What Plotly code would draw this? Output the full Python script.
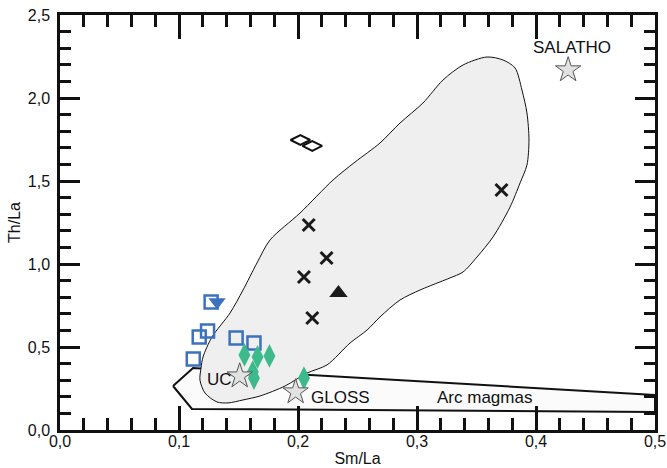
import plotly.graph_objects as go

# ---------------- data ----------------
# Field outline (grey envelope), data units
field_x = [0.3588, 0.3723, 0.3824, 0.3882, 0.3924, 0.3941, 0.3924, 0.3866, 0.3782, 0.3639,
           0.3504, 0.3387, 0.3277, 0.3193, 0.3025, 0.2857, 0.2689, 0.2580, 0.2437, 0.2244,
           0.2076, 0.1891, 0.1681, 0.1538, 0.1412, 0.1319, 0.1218, 0.1176, 0.1185, 0.1202,
           0.1277, 0.1429, 0.1538, 0.1655, 0.1765, 0.2017, 0.2294, 0.2479, 0.2689, 0.2857,
           0.3050, 0.3218, 0.3387, 0.3588]
field_y = [2.247, 2.229, 2.181, 2.048, 1.910, 1.747, 1.596, 1.488, 1.343, 1.163,
           1.042, 0.952, 0.916, 0.892, 0.843, 0.783, 0.681, 0.602, 0.524, 0.392,
           0.343, 0.265, 0.205, 0.181, 0.163, 0.169, 0.223, 0.301, 0.373, 0.440,
           0.560, 0.705, 0.843, 1.006, 1.145, 1.307, 1.506, 1.614, 1.729, 1.849,
           1.970, 2.108, 2.199, 2.247]

# Arc magmas field
arc_x = [0.095, 0.1118, 0.5, 0.5, 0.1109, 0.095]
arc_y = [0.265, 0.373, 0.211, 0.108, 0.127, 0.265]

# Blue open squares
sq_x = [0.112, 0.117, 0.124, 0.148, 0.163, 0.127]
sq_y = [0.428, 0.560, 0.596, 0.554, 0.524, 0.771]

# Blue filled down triangle
tri_dn_x = [0.132]
tri_dn_y = [0.771]

# Green diamonds
gd_x = [0.155, 0.166, 0.176, 0.162, 0.163, 0.205]
gd_y = [0.452, 0.440, 0.446, 0.349, 0.313, 0.313]

# Black crosses
cr_x = [0.209, 0.224, 0.205, 0.212, 0.371]
cr_y = [1.235, 1.036, 0.922, 0.675, 1.446]

# Black triangle up
tri_up_x = [0.234]
tri_up_y = [0.825]

# Open black diamonds
od_x = [0.202, 0.212]
od_y = [1.747, 1.711]

# Reference compositions (stars)
ref_names = ["SALATHO", "UC", "GLOSS"]
ref_x = [0.427, 0.151, 0.198]
ref_y = [2.169, 0.325, 0.229]

# Text labels
lab_text = ["SALATHO", "UC", "GLOSS", "Arc magmas"]
lab_x = [0.430, 0.134, 0.236, 0.357]
lab_y = [2.306, 0.307, 0.193, 0.193]

BLUE = "#3b71bf"
GREEN = "#3dba8c"
FONT = "Liberation Sans, Arial, sans-serif"

fig = go.Figure()

fig.add_trace(go.Scatter(x=arc_x, y=arc_y, mode="lines", fill="toself",
                         fillcolor="#fbfbfb", line=dict(color="#111", width=2),
                         hoverinfo="skip", showlegend=False))
fig.add_trace(go.Scatter(x=field_x, y=field_y, mode="lines", fill="toself",
                         fillcolor="#efefef", line=dict(color="#111", width=1, shape="spline", smoothing=0.8),
                         hoverinfo="skip", showlegend=False))

fig.add_trace(go.Scatter(x=od_x, y=od_y, mode="markers",
                         marker=dict(symbol="diamond-wide-open", size=14, color="#111", line=dict(width=2)),
                         showlegend=False))
fig.add_trace(go.Scatter(x=cr_x, y=cr_y, mode="markers",
                         marker=dict(symbol="x-thin-open", size=12, color="#1a1a1a", line=dict(width=3)),
                         showlegend=False))
fig.add_trace(go.Scatter(x=tri_up_x, y=tri_up_y, mode="markers",
                         marker=dict(symbol="triangle-up", size=16, color="#1a1a1a"),
                         showlegend=False))
fig.add_trace(go.Scatter(x=sq_x, y=sq_y, mode="markers",
                         marker=dict(symbol="square-open", size=13, color=BLUE, line=dict(width=2.5)),
                         showlegend=False))
fig.add_trace(go.Scatter(x=tri_dn_x, y=tri_dn_y, mode="markers",
                         marker=dict(symbol="triangle-down", size=15, color=BLUE),
                         showlegend=False))
fig.add_trace(go.Scatter(x=gd_x, y=gd_y, mode="markers",
                         marker=dict(symbol="diamond-tall", size=17, color=GREEN, line=dict(width=0)),
                         showlegend=False))
fig.add_trace(go.Scatter(x=ref_x, y=ref_y, mode="markers", text=ref_names,
                         marker=dict(symbol="star", size=19, color="#e2e2e2", line=dict(color="#555", width=1)),
                         showlegend=False))

for t, x, y in zip(lab_text, lab_x, lab_y):
    fig.add_annotation(x=x, y=y, text=t, showarrow=False,
                       font=dict(family=FONT, size=17, color="#111"))

axis_common = dict(showline=True, linecolor="#111", linewidth=2.5, mirror="ticks",
                   ticks="inside", tickcolor="#111", tickwidth=2.5,
                   showgrid=False, zeroline=False, tickformat=".1f", automargin=False,
                   tickfont=dict(family=FONT, size=16, color="#111"))

fig.update_xaxes(range=[0, 0.5], dtick=0.1, tick0=0, ticklen=24, ticklabelstandoff=-5,
                 minor=dict(ticks="inside", dtick=0.02, ticklen=12, tickcolor="#111", tickwidth=2.5, showgrid=False),
                 title=dict(text="Sm/La", font=dict(family=FONT, size=16, color="#111"), standoff=4),
                 **axis_common)
fig.update_yaxes(range=[0, 2.5], dtick=0.5, tick0=0, ticklen=20, ticklabelstandoff=4,
                 minor=dict(ticks="inside", dtick=0.1, ticklen=11, tickcolor="#111", tickwidth=2.5, showgrid=False),
                 title=dict(text="Th/La", font=dict(family=FONT, size=16, color="#111"), standoff=4),
                 **axis_common)

fig.update_layout(width=667, height=468, margin=dict(l=60, r=12, t=15, b=38),
                  paper_bgcolor="white", plot_bgcolor="white", separators=", ",
                  font=dict(family=FONT))

fig.write_html("out.html", config={"displayModeBar": False},
               post_script="document.body.style.margin='0';document.body.style.overflow='hidden';")
